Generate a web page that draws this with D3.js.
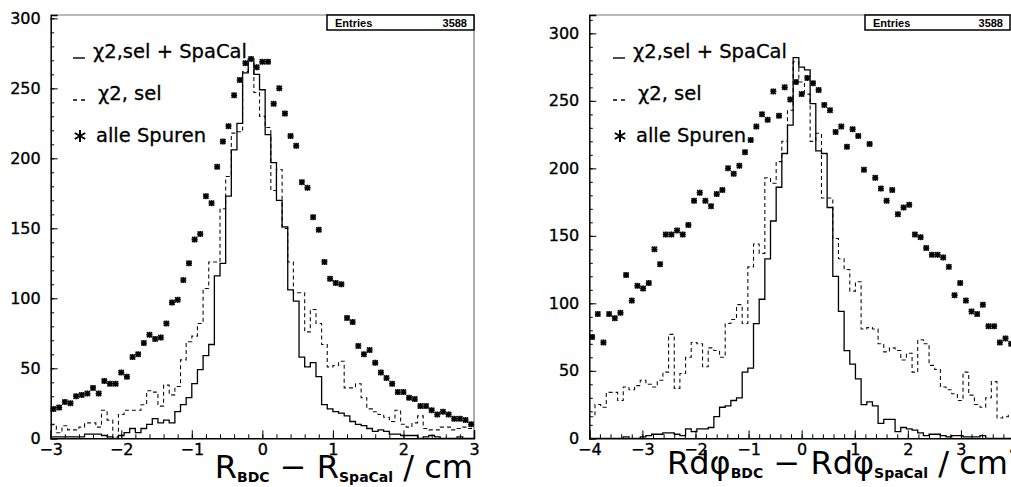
<!DOCTYPE html>
<html>
<head>
<meta charset="utf-8">
<script src="https://cdn.jsdelivr.net/npm/d3@7"></script>
<style>
body { margin: 0; background: #fff; }
svg { display: block; font-family: "DejaVu Sans", sans-serif; }
text { white-space: pre; }
</style>
</head>
<body>
<svg id="chart" width="1011" height="487"></svg>
<script>
// binning: 75 bins over each x range
const leftRange = [-3, 3];
const rightRange = [-4, 4];

// left panel: R_BDC - R_SpaCal
const leftAll = [21,22,26,25,30,31,32,36,32,41, 39,39,47,44,58,60,68,74,71,72,
  82,97,99,113,125,142,146,173,168,194, 212,223,245,256,268,271,265,269,269,239,
  250,232,216,209,183,179,158,149,126,114, 111,110,86,83,66,60,63,54,47,43,
  39,33,33,29,28,23,23,20,17,19, 17,14,14,13,10];
const leftSel = [10,4,9,6,6,8,11,11,8,20, 13,1,17,20,20,20,24,34,33,23,
  38,31,37,56,69,73,82,107,126,126, 164,187,218,219,262,270,247,230,222,177,
  192,150,126,104,104,76,92,82,67,51, 52,55,36,36,39,29,21,19,17,15,
  12,20,10,8,11,16,7,6,6,8, 8,6,7,8,7];
const leftSpacal = [1,1,1,1,1,1,3,3,3,2, 1,0,2,4,7,4,7,10,14,11,
  13,11,19,24,29,39,49,59,67,116, 125,173,206,225,261,271,260,249,217,197,
  170,151,106,98,58,51,54,44,24,21, 19,18,16,12,10,9,7,5,6,5,
  3,3,2,2,2,0,1,2,1,0, 0,0,1,0,0];

// right panel: Rdphi_BDC - Rdphi_SpaCal
const rightAll = [75,92,71,92,89,93,121,102,113,111, 115,140,129,151,151,154,151,158,176,182,
  176,172,181,184,200,196,202,212,221,231, 240,236,257,239,260,251,264,255,267,263,
  258,247,243,227,231,216,229,224,199,218, 193,185,176,184,166,171,173,151,149,141,
  136,136,134,127,106,115,102,94,92,99, 83,83,71,74,70];
const rightSel = [16,25,23,34,34,28,38,36,39,43, 40,38,43,49,77,37,48,60,71,70,
  53,67,65,60,85,88,99,85,127,144, 137,193,189,205,220,243,279,264,255,220,
  226,178,178,148,133,125,109,116,81,82, 81,70,64,67,65,58,63,49,73,70,
  54,51,38,36,33,28,49,32,25,23, 30,42,15,16,17];
const rightSpacal = [0,0,0,0,0,0,1,0,0,1, 2,3,3,4,4,3,2,7,5,7,
  7,8,16,23,24,28,30,49,52,85, 103,133,161,186,211,232,282,275,273,248,
  213,211,171,120,94,65,55,44,25,27, 24,11,14,14,5,8,7,6,4,2,
  3,3,2,1,2,2,1,1,1,2, 0,0,0,0,0];

const entries = 3588;
const legendLabels = ['χ2,sel + SpaCal', 'χ2, sel', 'alle Spuren'];
const yTicks = [0, 50, 100, 150, 200, 250, 300];
const leftXTicks = [-3, -2, -1, 0, 1, 2, 3];
const rightXTicks = [-4, -3, -2, -1, 0, 1, 2, 3, 4];

const svg = d3.select('#chart');
const plotTop = 15, plotBottom = 438.3;
const tickFont = '"DejaVu Sans", sans-serif';

const panels = [
  { all: leftAll, sel: leftSel, spacal: leftSpacal, range: leftRange, xTicks: leftXTicks,
    px: [50.7, 474], yMax: 302.4, legendX: 73, boxX: 327, boxX2: 474,
    title: { x: 473, y: 478, anchor: 'end', parts: [['R'], ['BDC', 1], [' − R'], ['SpaCal', 1], [' / cm']] } },
  { all: rightAll, sel: rightSel, spacal: rightSpacal, range: rightRange, xTicks: rightXTicks,
    px: [589.3, 1014], yMax: 313.6, legendX: 613, boxX: 865, boxX2: 1010,
    title: { x: 667, y: 474, anchor: 'start', parts: [['Rdφ'], ['BDC', 1], [' − Rdφ'], ['SpaCal', 1], [' / cm']] } }
];

function histPath(values, x, y, lo, hi) {
  const w = (hi - lo) / values.length;
  const pts = values.map((v, i) => [lo + i * w, v]);
  pts.push([hi, values[values.length - 1]]);
  return d3.line().x(d => x(d[0])).y(d => y(d[1])).curve(d3.curveStepAfter)(pts);
}

const starPath = 'M-2.5,-2.5L2.5,2.5M-2.5,2.5L2.5,-2.5M-3,0H3M0,-3V3';

panels.forEach(p => {
  const [lo, hi] = p.range;
  const x = d3.scaleLinear().domain(p.range).range(p.px);
  const y = d3.scaleLinear().domain([0, p.yMax]).range([plotBottom, plotTop]);
  const g = svg.append('g');

  // frame (top / right)
  g.append('path')
    .attr('d', `M${p.px[0]},${plotTop}H${p.px[1]}V${plotBottom}`)
    .attr('fill', 'none').attr('stroke', '#777').attr('stroke-width', 1.2);

  // histograms
  g.append('path')
    .attr('d', histPath(p.sel, x, y, lo, hi))
    .attr('fill', 'none').attr('stroke', '#111').attr('stroke-width', 1.1)
    .attr('stroke-dasharray', '4,3');
  g.append('path')
    .attr('d', histPath(p.spacal, x, y, lo, hi))
    .attr('fill', 'none').attr('stroke', '#000').attr('stroke-width', 1.3);

  // all tracks as stars
  const w = (hi - lo) / p.all.length;
  const stars = g.append('g').selectAll('g')
    .data(p.all)
    .enter()
    .append('g')
    .attr('transform', (d, i) => `translate(${x(lo + (i + 0.5) * w)},${y(d)})`);
  stars.append('rect')
    .attr('x', -2.8).attr('y', -2.8).attr('width', 5.6).attr('height', 5.6)
    .attr('fill', '#666').attr('opacity', 0.8);
  stars.append('path')
    .attr('d', starPath)
    .attr('stroke', '#000').attr('stroke-width', 1.4);

  // x axis
  const minorX = d3.range(Math.round((hi - lo) / 0.2) + 1).map(i => lo + i * 0.2);
  g.append('g')
    .attr('transform', `translate(0,${plotBottom})`)
    .call(d3.axisBottom(x).tickValues(minorX).tickSize(-4).tickFormat(''))
    .call(a => a.select('.domain').remove());
  const xa = g.append('g')
    .attr('transform', `translate(0,${plotBottom})`)
    .call(d3.axisBottom(x).tickValues(p.xTicks).tickSize(-8).tickPadding(5).tickFormat(d3.format('d')));
  xa.select('.domain').attr('stroke-width', 1.5);
  xa.selectAll('text').attr('font-size', 16).attr('font-family', tickFont)
    .attr('fill', '#000').attr('stroke', '#000').attr('stroke-width', 0.35);

  // y axis
  const minorY = d3.range(0, p.yMax, 10);
  g.append('g')
    .attr('transform', `translate(${p.px[0]},0)`)
    .call(d3.axisLeft(y).tickValues(minorY).tickSize(-3.5).tickFormat(''))
    .call(a => a.select('.domain').remove());
  const ya = g.append('g')
    .attr('transform', `translate(${p.px[0]},0)`)
    .call(d3.axisLeft(y).tickValues(yTicks).tickSize(-7).tickPadding(10).tickFormat(d3.format('d')));
  ya.select('.domain').attr('stroke-width', 1.5);
  ya.selectAll('text').attr('font-size', 16).attr('font-family', tickFont)
    .attr('fill', '#000').attr('stroke', '#000').attr('stroke-width', 0.35);

  // stats box
  g.append('rect')
    .attr('x', p.boxX).attr('y', plotTop)
    .attr('width', p.boxX2 - p.boxX).attr('height', 15)
    .attr('fill', '#fff').attr('stroke', '#000').attr('stroke-width', 1.5);
  g.append('text')
    .attr('x', p.boxX + 8).attr('y', 27)
    .attr('font-family', '"Liberation Sans", sans-serif').attr('font-weight', 'bold').attr('font-size', 11)
    .text('Entries');
  g.append('text')
    .attr('x', p.boxX2 - 7).attr('y', 27).attr('text-anchor', 'end')
    .attr('font-family', '"Liberation Sans", sans-serif').attr('font-weight', 'bold').attr('font-size', 11)
    .text(entries);

  // legend
  const lx = p.legendX;
  g.append('path').attr('d', `M${lx},58H${lx + 12}`).attr('stroke', '#000').attr('stroke-width', 1.4);
  g.append('path').attr('d', `M${lx},100H${lx + 4}M${lx + 8},100H${lx + 12}`).attr('stroke', '#000').attr('stroke-width', 1.4);
  g.append('path')
    .attr('transform', `translate(${lx + 7},136)`)
    .attr('d', 'M0,-6V6M-5.2,-3L5.2,3M-5.2,3L5.2,-3')
    .attr('stroke', '#000').attr('stroke-width', 2);
  [58, 100, 142].forEach((ty, i) => {
    g.append('text')
      .attr('x', lx + [20, 25, 23][i]).attr('y', ty)
      .attr('font-size', 19.5)
      .attr('stroke', '#000').attr('stroke-width', 0.3)
      .text(legendLabels[i]);
  });

  // axis title
  const t = g.append('text')
    .attr('x', p.title.x).attr('y', p.title.y)
    .attr('text-anchor', p.title.anchor)
    .attr('font-size', 32);
  p.title.parts.forEach(([s, sub], i) => {
    const ts = t.append('tspan').text(s);
    if (sub) ts.attr('font-size', 14).attr('font-weight', 'bold').attr('dy', 4);
    else if (i > 0) ts.attr('dy', -4);
  });
});
</script>
</body>
</html>
